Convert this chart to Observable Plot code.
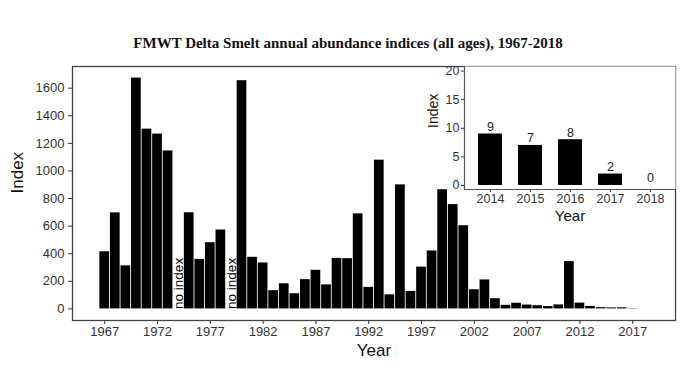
<!DOCTYPE html>
<html>
<head>
<meta charset="utf-8">
<script src="https://cdn.jsdelivr.net/npm/d3@7"></script>
<script src="https://cdn.jsdelivr.net/npm/@observablehq/plot@0.6"></script>
<style>
  html, body { margin: 0; padding: 0; background: #fff; }
  #wrap { position: relative; width: 700px; height: 379px; overflow: hidden; font-family: "Liberation Sans", Arial, sans-serif; }
  #title { position: absolute; left: 0; top: 35px; width: 696px; text-align: center; font-family: "Liberation Serif", "Times New Roman", serif; font-weight: bold; font-size: 15px; line-height: 16px; color: #111; }
  #main { position: absolute; left: 0; top: 56px; }
  #inset { position: absolute; left: 400px; top: 56px; }
</style>
</head>
<body>
<div id="wrap">
  <div id="title">FMWT Delta Smelt annual abundance indices (all ages), 1967-2018</div>
  <div id="main"></div>
  <div id="inset"></div>
</div>
<script>
// ---- data ----
const years = d3.range(1967, 2019);
const indexValues = [
  414, 696, 312, 1673, 1303, 1267, 1145, null, 697, 359,
  480, 572, null, 1654, 374, 333, 132, 182, 110, 212,
  280, 174, 366, 364, 689, 156, 1078, 102, 899, 127,
  303, 420, 864, 756, 603, 139, 210, 74, 26, 41,
  28, 23, 17, 29, 343, 42, 18, 9, 7, 8,
  2, 0
];
const noIndexYears = [1974, 1979];
const xTickYears = [1967, 1972, 1977, 1982, 1987, 1992, 1997, 2002, 2007, 2012, 2017];
const yTicks = [0, 200, 400, 600, 800, 1000, 1200, 1400, 1600];

const insetYears = ["2014", "2015", "2016", "2017", "2018"];
const insetValues = [9, 7, 8, 2, 0];
const insetYTicks = [0, 5, 10, 15, 20];

// ---- tables ----
const mainData = years.map((y, i) => ({year: y, value: indexValues[i]})).filter(d => d.value !== null);
const insetData = insetYears.map((y, i) => ({year: y, value: insetValues[i]}));

const ink = "#333";

const main = Plot.plot({
  width: 700,
  height: 323,
  marginLeft: 72,
  marginRight: 25,
  marginTop: 10,
  marginBottom: 59,
  style: {fontFamily: "'Liberation Sans', Arial, sans-serif", color: ink, background: "transparent", overflow: "visible"},
  x: {domain: [1963.95, 2021.05]},
  y: {domain: [-84, 1757]},
  marks: [
    Plot.rectY(mainData, {x1: d => d.year - 0.46, x2: d => d.year + 0.46, y1: 0, y2: "value", fill: "#000"}),
    Plot.text(noIndexYears, {x: d => d, y: 0, text: () => "no index", rotate: -90, textAnchor: "start", fontSize: 13.5, fill: "#000"}),
    Plot.axisX({ticks: xTickYears, tickFormat: d => String(d), tickSize: 4, tickPadding: 2, fontSize: 13, label: null, stroke: ink}),
    Plot.axisY({ticks: yTicks, tickFormat: d => String(d), tickSize: 4, tickPadding: 4, fontSize: 13, label: null, stroke: ink}),
    Plot.frame({stroke: "#444", strokeWidth: 1.3}),
    Plot.text(["Index"], {frameAnchor: "left", dx: -55, rotate: -90, fontSize: 17, fill: "#111"}),
    Plot.text(["Year"], {frameAnchor: "bottom", dy: 35, fontSize: 17, fill: "#111"})
  ]
});
document.getElementById("main").appendChild(main);

const inset = Plot.plot({
  width: 280,
  height: 180,
  marginLeft: 64,
  marginRight: 5,
  marginTop: 10,
  marginBottom: 47,
  style: {fontFamily: "'Liberation Sans', Arial, sans-serif", color: ink, background: "transparent", overflow: "visible"},
  x: {type: "band", domain: insetYears, paddingInner: 0.4, paddingOuter: 0.3},
  y: {domain: [-0.7, 20.8]},
  marks: [
    Plot.frame({fill: "#fff", stroke: null}),
    Plot.barY(insetData, {x: "year", y1: 0, y2: "value", fill: "#000"}),
    Plot.text(insetData, {x: "year", y: "value", text: d => String(d.value), lineAnchor: "bottom", dy: -3, fontSize: 12.5, fill: "#222"}),
    Plot.axisX({tickSize: 3, tickPadding: 2, fontSize: 12.5, label: null, stroke: ink}),
    Plot.axisY({ticks: insetYTicks, tickSize: 3, tickPadding: 2, fontSize: 12.5, label: null, stroke: ink}),
    Plot.frame({anchor: "left", stroke: "#555", strokeWidth: 1.2}),
    Plot.frame({anchor: "bottom", stroke: "#555", strokeWidth: 1.2}),
    Plot.text(["Index"], {frameAnchor: "left", dx: -31, rotate: -90, fontSize: 14, fill: "#111"}),
    Plot.text(["Year"], {frameAnchor: "bottom", dy: 31, fontSize: 15, fill: "#111"})
  ]
});
document.getElementById("inset").appendChild(inset);
</script>
</body>
</html>
